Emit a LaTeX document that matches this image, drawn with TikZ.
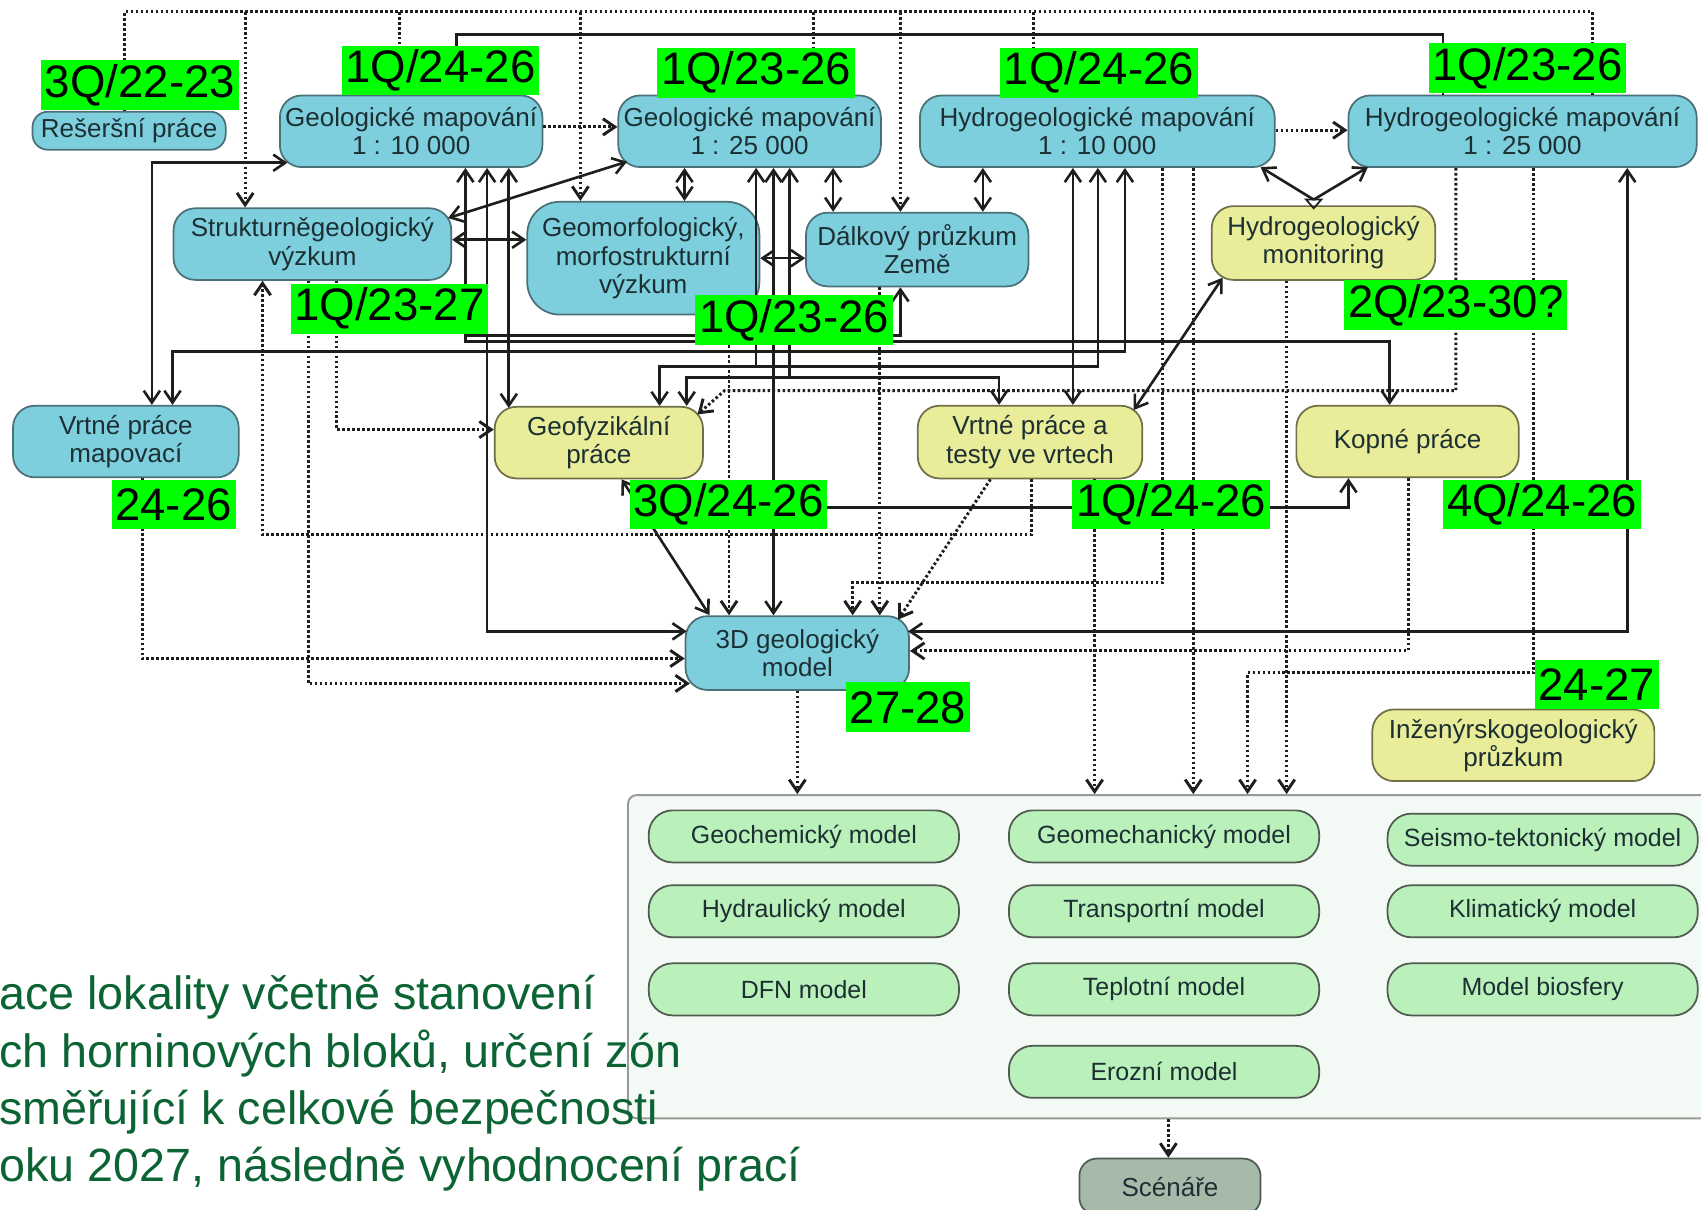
\documentclass[tikz,border=0pt]{standalone}
\usepackage{fontspec}
\setmainfont{Liberation Sans}
\usetikzlibrary{arrows.meta}
\definecolor{cyf}{RGB}{126,207,221}
\definecolor{cyb}{RGB}{74,112,120}
\definecolor{yef}{RGB}{233,236,152}
\definecolor{yeb}{RGB}{112,112,72}
\definecolor{ntx}{RGB}{28,48,52}
\definecolor{gmf}{RGB}{186,240,186}
\definecolor{gmb}{RGB}{80,90,80}
\definecolor{bbf}{RGB}{243,250,246}
\definecolor{bbb}{RGB}{150,155,150}
\definecolor{scf}{RGB}{166,186,170}
\definecolor{labg}{RGB}{0,255,0}
\definecolor{lc}{RGB}{30,30,30}
\definecolor{btc}{RGB}{12,100,52}
\tikzset{
  cy/.style={draw=cyb, fill=cyf, rounded corners=10pt, line width=0.8pt, text=ntx, align=center,
    font=\fontsize{12}{13}\selectfont, inner sep=0pt},
  ye/.style={cy, draw=yeb, fill=yef},
  gm/.style={draw=gmb, fill=gmf, rounded corners=11pt, line width=0.8pt, text=ntx,
    font=\fontsize{11.5}{13}\selectfont, minimum width=143pt, minimum height=24pt, inner sep=0pt},
  lab/.style={fill=labg, text=black, inner xsep=1.75pt, inner ysep=0pt, minimum height=23pt,
    font=\fontsize{21}{21}\selectfont},
  btx/.style={text=btc, font=\fontsize{21.5}{26}\selectfont, inner sep=0pt},
  sl/.style={line width=1.2pt, draw=lc},
  dt/.style={line width=1.35pt, draw=lc, dash pattern=on 1.2pt off 1.1pt},
}
\begin{document}
\begin{tikzpicture}[x=0.5pt,y=-0.5pt,>={Straight Barb[length=5.5pt,width=7.5pt]}]
\fill[white] (0,0) rectangle (1568,1115);
\useasboundingbox (0,0) rectangle (1568,1115);

% ---------- nodes ----------
\node[cy, rounded corners=7pt, minimum width=89pt, minimum height=17.5pt] (RES) at (119,120.5) {Rešeršní práce};
\node[cy, minimum width=121pt, minimum height=33pt] (GM10) at (379,121) {Geologické mapování\\1 : 10 000};
\node[cy, minimum width=121pt, minimum height=33pt] (GM25) at (691,121) {Geologické mapování\\1 : 25 000};
\node[cy, minimum width=163.5pt, minimum height=33pt] (HGM10) at (1011.5,121) {Hydrogeologické mapování\\1 : 10 000};
\node[cy, minimum width=160.5pt, minimum height=33pt] (HGM25) at (1403.5,121) {Hydrogeologické mapování\\1 : 25 000};
\node[cy, minimum width=128pt, minimum height=33pt] (SGV) at (288,225) {Strukturněgeologický\\výzkum};
\node[cy, rounded corners=15pt, minimum width=107pt, minimum height=52pt] (GMV) at (593,238) {Geomorfologický,\\morfostrukturní\\výzkum};
\node[cy, minimum width=102.5pt, minimum height=34pt] (DPZ) at (845.5,230) {Dálkový průzkum\\Země};
\node[ye, minimum width=103pt, minimum height=34pt] (HM) at (1220,224) {Hydrogeologický\\monitoring};
\node[cy, minimum width=104pt, minimum height=33pt] (VPM) at (116,407) {Vrtné práce\\mapovací};
\node[ye, minimum width=96pt, minimum height=33pt] (GP) at (552,408) {Geofyzikální\\práce};
\node[ye, minimum width=103.5pt, minimum height=33.5pt] (VPT) at (949.5,407.5) {Vrtné práce a\\testy ve vrtech};
\node[ye, minimum width=102.5pt, minimum height=33pt] (KP) at (1297.5,407) {Kopné práce};
\node[cy, minimum width=103pt, minimum height=34pt] (M3D) at (735,602) {3D geologický\\model};
\node[ye, minimum width=130pt, minimum height=33pt] (IGP) at (1395,687) {Inženýrskogeologický\\průzkum};

\node[draw=bbb, fill=bbf, rounded corners=4pt, line width=0.9pt, inner sep=0pt,
      minimum width=500pt, minimum height=149pt, anchor=north west] (BOX) at (578,732) {};
\node[gm] (G1) at (741,771) {Geochemický model};
\node[gm] (G2) at (1073,771) {Geomechanický model};
\node[gm] (G3) at (1422,774) {Seismo-tektonický model};
\node[gm] (G4) at (741,840) {Hydraulický model};
\node[gm] (G5) at (1073,840) {Transportní model};
\node[gm] (G6) at (1422,840) {Klimatický model};
\node[gm] (G7) at (741,912) {DFN model};
\node[gm] (G8) at (1073,912) {Teplotní model};
\node[gm] (G9) at (1422,912) {Model biosfery};
\node[gm] (G10) at (1073,988) {Erozní model};
\node[draw=gmb, fill=scf, rounded corners=8pt, line width=0.8pt, text=ntx, inner sep=0pt,
      font=\fontsize{12}{13}\selectfont, minimum width=83.5pt, minimum height=26pt] (SC) at (1078.5,1094) {Scénáře};

% ---------- dotted connectors ----------
\draw[dt] (RES.north -| 115,0) -- (115,11) -- (1468,11) -- (HGM25.north -| 1468,0);
\draw[dt,->] (226,11) -- (SGV.north -| 226,0);
\draw[dt] (368,11) -- (GM10.north -| 368,0);
\draw[dt,->] (535,11) -- (GMV.north -| 535,0);
\draw[dt] (750,11) -- (GM25.north -| 750,0);
\draw[dt,->] (830,11) -- (DPZ.north -| 830,0);
\draw[dt] (953,11) -- (HGM10.north -| 953,0);
\draw[dt,->] (GM10.east |- 0,117) -- (GM25.west |- 0,117);
\draw[dt,->] (HGM10.east |- 0,120) -- (HGM25.west |- 0,120);
\draw[dt,->] (VPT.south -| 951,0) -- (951,493) -- (242,493) -- (SGV.south -| 242,0);
\draw[dt,->] (SGV.south -| 310,0) -- (310,396) -- (GP.west |- 0,396);
\draw[dt,->] (SGV.south -| 284,0) -- (284,630) -- (636,630);
\draw[dt,->] (VPM.south -| 131,0) -- (131,607) -- (M3D.west |- 0,607);
\draw[dt,->] (GMV.south -| 672,0) -- (M3D.north -| 672,0);
\draw[dt,->] (HGM25.south -| 1342,0) -- (1342,360) -- (668,360) -- (643,382);
\draw[dt,->] (HGM10.south -| 1072,0) -- (1072,537) -- (786,537) -- (M3D.north -| 786,0);
\draw[dt,->] (DPZ.south -| 811,0) -- (M3D.north -| 811,0);
\draw[dt,->] (VPT.south -| 913,0) -- (828,571);
\draw[dt,->] (KP.south -| 1298,0) -- (1298,600) -- (M3D.east |- 0,600);
\draw[dt,->] (VPT.south -| 1009,0) -- (BOX.north -| 1009,0);
\draw[dt,->] (HGM10.south -| 1100,0) -- (BOX.north -| 1100,0);
\draw[dt,->] (HGM25.south -| 1414,0) -- (1414,620) -- (1150,620) -- (BOX.north -| 1150,0);
\draw[dt,->] (HM.south -| 1186,0) -- (BOX.north -| 1186,0);
\draw[dt,->] (M3D.south) -- (BOX.north -| M3D.south);
\draw[dt,->] (BOX.south -| 1077,0) -- (SC.north -| 1077,0);

% ---------- solid connectors ----------
\draw[sl] (GM10.north -| 421,0) -- (421,32) -- (1330,32) -- (HGM25.north -| 1330,0);
\draw[sl,<->] (VPM.north -| 140,0) -- (140,150) -- (265,150);
\draw[sl,<->] (GM10.south -| 429,0) -- (429,309) -- (830,309) -- (DPZ.south -| 830,0);
\draw[sl,->] (429,309) -- (429,315) -- (1281,315) -- (KP.north -| 1281,0);
\draw[sl,<->] (GM10.south -| 449,0) -- (449,582) -- (633,582);
\draw[sl,<->] (GM10.south -| 469,0) -- (469,376);
\draw[sl,<->] (413,201) -- (578,149);
\draw[sl,<->] (SGV.east |- 0,221) -- (GMV.west |- 0,221);
\draw[sl,<->] (GM25.south -| 631,0) -- (GMV.north -| 631,0);
\draw[sl,<->] (GM25.south -| 768,0) -- (DPZ.north -| 768,0);
\draw[sl,<->] (GMV.east |- 0,238) -- (DPZ.west |- 0,238);
\draw[sl,<->] (HGM10.south -| 906,0) -- (DPZ.north -| 906,0);
\draw[sl,<->] (HGM10.south -| 1012,0) -- (1012,338) -- (608,338) -- (GP.north -| 608,0);
\draw[sl,<-] (GM25.south -| 697,0) -- (697,338);
\draw[sl,<->] (GM25.south -| 728,0) -- (728,348) -- (921,348) -- (VPT.north -| 921,0);
\draw[sl,<-] (GP.north -| 633,0) -- (633,348) -- (728,348);
\draw[sl,<->] (GM25.south -| 713,0) -- (M3D.north -| 713,0);
\draw[sl,<->] (HGM10.south -| 1037,0) -- (1037,324) -- (159,324) -- (VPM.north -| 159,0);
\draw[sl,<->] (HGM10.south -| 989,0) -- (VPT.north -| 989,0);
\draw[sl,->] (1211,184) -- (1162,154);
\draw[sl,->] (1211,184) -- (1261,154);
\draw[lc, line width=0.8pt] (1204,184) -- (1218,184) -- (1211,192) -- cycle;
\draw[sl,<->] (1127,256) -- (1045,378);
\draw[sl,<->] (HGM25.south -| 1500,0) -- (1500,582) -- (837,582);
\draw[sl,<->] (GP.south -| 573,0) -- (654,567);
\draw[sl,->] (589,468) -- (1243,468) -- (KP.south -| 1243,0);

% ---------- bottom text ----------
\node[btx, anchor=base west] (T1) at (-1,931) {ace lokality včetně stanovení};
\node[btx, anchor=base west] (T2) at (-1,984) {ch horninových bloků, určení zón};
\node[btx, anchor=base west] (T3) at (-1,1037) {směřující k celkové bezpečnosti};
\node[btx, anchor=base west] (T4) at (-1,1089) {oku 2027, následně vyhodnocení prací};

% ---------- green labels ----------
\node[lab] (L1) at (129,78.5) {3Q/22-23};
\node[lab] (L2) at (406,65) {1Q/24-26};
\node[lab] (L3) at (697,67) {1Q/23-26};
\node[lab] (L4) at (1013,67) {1Q/24-26};
\node[lab] (L5) at (1408,63) {1Q/23-26};
\node[lab] (L6) at (359,284.5) {1Q/23-27};
\node[lab] (L7) at (732,295) {1Q/23-26};
\node[lab] (L8) at (1342,281.5) {2Q/23-30?};
\node[lab] (L9) at (160,465) {24-26};
\node[lab] (L10) at (671.5,465) {3Q/24-26};
\node[lab] (L11) at (1079.5,465) {1Q/24-26};
\node[lab] (L12) at (1421.5,465) {4Q/24-26};
\node[lab] (L13) at (837,652) {27-28};
\node[lab] (L14) at (1472,631) {24-27};
\end{tikzpicture}
\end{document}
